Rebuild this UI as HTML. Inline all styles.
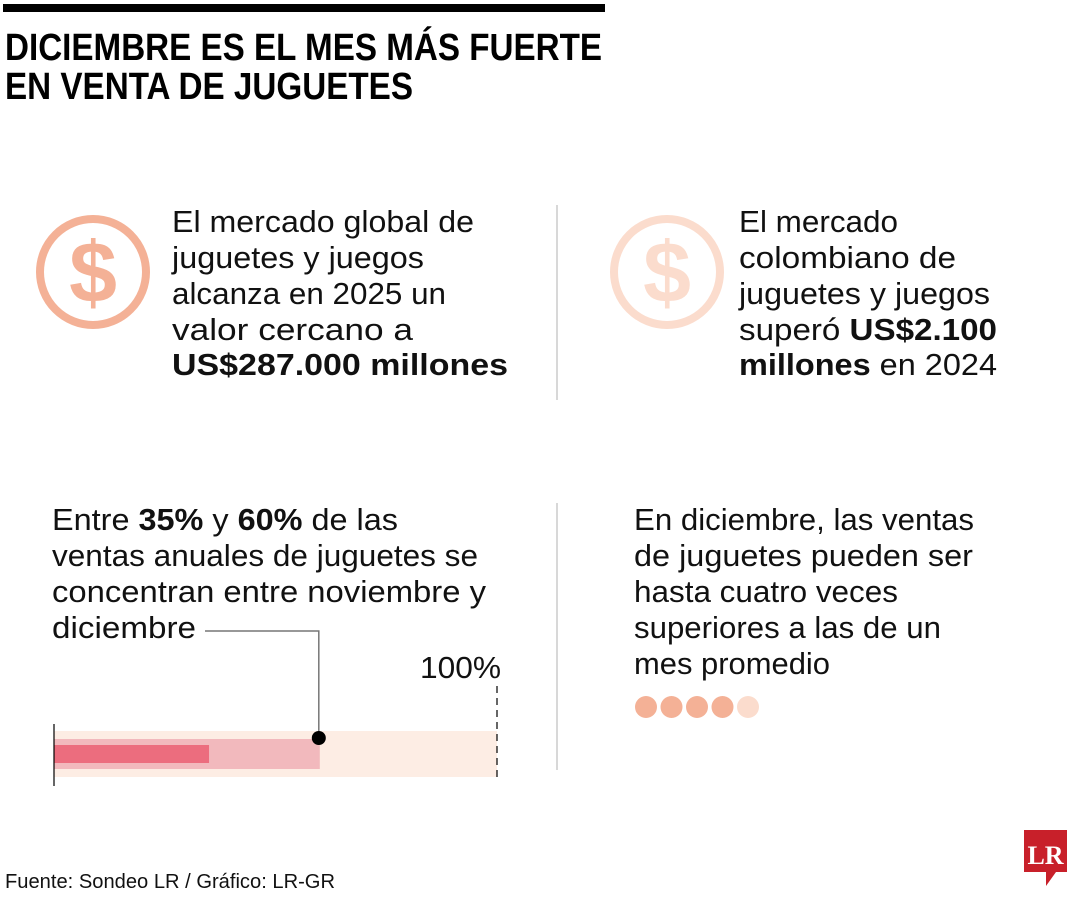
<!DOCTYPE html>
<html><head><meta charset="utf-8"><style>
html,body{margin:0;padding:0;background:#fff;width:1080px;height:900px;overflow:hidden}
svg{display:block;font-family:"Liberation Sans",sans-serif}
.t{font-size:31px;fill:#111}
.b{font-weight:bold}
</style></head><body>
<svg width="1080" height="900" viewBox="0 0 1080 900">
<rect x="3" y="4" width="602" height="8" fill="#000"/>
<g font-weight="bold" font-size="38" fill="#000">
<text x="5" y="60" textLength="597" lengthAdjust="spacingAndGlyphs">DICIEMBRE ES EL MES MÁS FUERTE</text>
<text x="5" y="99" textLength="408" lengthAdjust="spacingAndGlyphs">EN VENTA DE JUGUETES</text>
</g>
<g>
<circle cx="93" cy="272" r="53" fill="none" stroke="#f4b196" stroke-width="8"/>
<text x="93" y="302" text-anchor="middle" font-size="86" font-weight="bold" fill="#f4b196">$</text>
</g>
<g>
<circle cx="667" cy="272" r="53" fill="none" stroke="#fbdccd" stroke-width="8"/>
<text x="667" y="302" text-anchor="middle" font-size="86" font-weight="bold" fill="#fbdccd">$</text>
</g>
<g class="t">
<text x="172" y="232" textLength="302" lengthAdjust="spacingAndGlyphs">El mercado global de</text>
<text x="172" y="268" textLength="252" lengthAdjust="spacingAndGlyphs">juguetes y juegos</text>
<text x="172" y="304" textLength="274" lengthAdjust="spacingAndGlyphs">alcanza en 2025 un</text>
<text x="172" y="340" textLength="241" lengthAdjust="spacingAndGlyphs">valor cercano a</text>
<text x="172" y="375" class="b" textLength="336" lengthAdjust="spacingAndGlyphs">US$287.000 millones</text>
</g>
<g class="t">
<text x="739" y="232" textLength="159" lengthAdjust="spacingAndGlyphs">El mercado</text>
<text x="739" y="268" textLength="217" lengthAdjust="spacingAndGlyphs">colombiano de</text>
<text x="739" y="304" textLength="251" lengthAdjust="spacingAndGlyphs">juguetes y juegos</text>
<text x="739" y="340" textLength="258" lengthAdjust="spacingAndGlyphs">superó <tspan class="b">US$2.100</tspan></text>
<text x="739" y="375" textLength="258" lengthAdjust="spacingAndGlyphs"><tspan class="b">millones</tspan> en 2024</text>
</g>
<line x1="557" y1="205" x2="557" y2="400" stroke="#ccc" stroke-width="1.5"/>
<line x1="557" y1="503" x2="557" y2="770" stroke="#ccc" stroke-width="1.5"/>
<g class="t">
<text x="52" y="530" textLength="346" lengthAdjust="spacingAndGlyphs">Entre <tspan class="b">35%</tspan> y <tspan class="b">60%</tspan> de las</text>
<text x="52" y="566" textLength="426" lengthAdjust="spacingAndGlyphs">ventas anuales de juguetes se</text>
<text x="52" y="602" textLength="434" lengthAdjust="spacingAndGlyphs">concentran entre noviembre y</text>
<text x="52" y="638" textLength="144" lengthAdjust="spacingAndGlyphs">diciembre</text>
</g>
<g class="t">
<text x="634" y="530" textLength="340" lengthAdjust="spacingAndGlyphs">En diciembre, las ventas</text>
<text x="634" y="566" textLength="339" lengthAdjust="spacingAndGlyphs">de juguetes pueden ser</text>
<text x="634" y="602" textLength="264" lengthAdjust="spacingAndGlyphs">hasta cuatro veces</text>
<text x="634" y="638" textLength="307" lengthAdjust="spacingAndGlyphs">superiores a las de un</text>
<text x="634" y="674" textLength="196" lengthAdjust="spacingAndGlyphs">mes promedio</text>
</g>
<g id="dots"></g>
<g id="bar"></g>
<text x="5" y="888" font-size="20" fill="#111" textLength="330" lengthAdjust="spacingAndGlyphs">Fuente: Sondeo LR / Gráfico: LR-GR</text>
<g>
<path d="M1024 830 H1067 V872 H1056 L1046 886 V872 H1024 Z" fill="#c8202a"/>
<text x="1045.5" y="864" text-anchor="middle" font-family="Liberation Serif,serif" font-weight="bold" font-size="26" fill="#fff">LR</text>
</g>
</svg>
<script>
const ranges = [0, 35, 60, 100];
const dotValues = [1, 1, 1, 1, 0];
const NS = "http://www.w3.org/2000/svg";
const x0 = 54, x1 = 497;
function xs(v){ return x0 + (x1 - x0) * v / 100; }
const bar = document.getElementById('bar');
function mk(tag, attrs, parent){ const e = document.createElementNS(NS, tag); for (const k in attrs) e.setAttribute(k, attrs[k]); parent.appendChild(e); return e; }
let e;
e = mk('rect', {x: xs(0), y: 731, width: xs(ranges[3]) - xs(0), height: 46, fill: '#fdede4'}, bar);


e = mk('rect', {x: xs(0), y: 739, width: xs(ranges[2]) - xs(0), height: 30, fill: '#f2b9bd'}, bar);


e = mk('rect', {x: xs(0), y: 745, width: xs(ranges[1]) - xs(0), height: 18, fill: '#ec6d7e'}, bar);


e = mk('line', {x1: x0, y1: 724, x2: x0, y2: 786, stroke: '#000', 'stroke-width': 1.2}, bar);


e = mk('line', {x1: xs(100), y1: 686, x2: xs(100), y2: 778, stroke: '#000', 'stroke-width': 1.2, 'stroke-dasharray': '7 5'}, bar);


e = mk('text', {x: xs(100) + 4, y: 678, 'text-anchor': 'end', 'font-size': 31, fill: '#111', textLength: 81, lengthAdjust: 'spacingAndGlyphs'}, bar);
e.textContent = '100%';


e = mk('polyline', {points: `205,631 ${xs(ranges[2])-1},631 ${xs(ranges[2])-1},738`, fill: 'none', stroke: '#777', 'stroke-width': 1.5}, bar);


e = mk('circle', {cx: xs(ranges[2]) - 1, cy: 738, r: 7, fill: '#000'}, bar);


const dots = document.getElementById('dots');
dotValues.forEach((v, i) => {
  const c = mk('circle', {cx: 646 + i * 25.5, cy: 707, r: 11, fill: v ? '#f4b196' : '#fbdccd'}, dots);
  
  
});
</script>
</body></html>
